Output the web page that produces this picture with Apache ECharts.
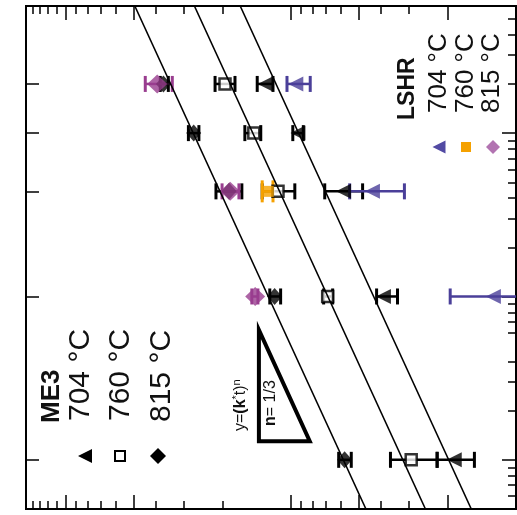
<!DOCTYPE html>
<html><head><meta charset="utf-8">
<script src="https://cdn.jsdelivr.net/npm/echarts@6/dist/echarts.min.js"></script>
<style>html,body{margin:0;padding:0;background:#fff}#c{width:517px;height:515px}</style>
</head><body><div id="c"></div>
<script>
// ---- Data (size vs. time, log-log; chart is drawn rotated as in the reference) ----
const me3Times = [1, 10, 44, 100, 200];
const me3_704 = [0.188, 0.388, 0.583, 0.93, 1.30];
const me3_704_lo = [0.153, 0.336, 0.48, 0.88, 1.20];
const me3_704_hi = [0.224, 0.416, 0.707, 0.98, 1.41];
const me3_760 = [0.292, 0.686, 1.14, 1.46, 1.96];
const me3_760_lo = [0.224, 0.652, 0.96, 1.36, 1.77];
const me3_760_hi = [0.361, 0.715, 1.34, 1.60, 2.17];
const me3_815 = [0.577, 1.18, 1.88, 2.70, 3.68];
const me3_815_lo = [0.539, 1.11, 1.65, 2.56, 3.50];
const me3_815_hi = [0.613, 1.24, 2.15, 2.85, 3.80];

const lshr704Times = [10, 44, 200];
const lshr_704 = [0.126, 0.434, 0.95];
const lshr_704_lo = [0.05, 0.313, 0.82];
const lshr_704_hi = [0.196, 0.548, 1.04];
const lshr760Times = [44];
const lshr_760 = [1.26];
const lshr_760_lo = [1.20];
const lshr_760_hi = [1.34];
const lshr815Times = [10, 44, 200];
const lshr_815 = [1.44, 1.86, 3.92];
const lshr_815_lo = [1.40, 1.70, 3.36];
const lshr_815_hi = [1.49, 2.02, 4.43];

// fit lines y=(k*t)^n, n=1/3 : endpoints
const fitTimes = [0.5, 600];
const fit_815 = [0.464, 4.93];
const fit_760 = [0.2525, 2.68];
const fit_704 = [0.158, 1.678];

// slope triangle (n = 1/3)
const triTimes = [6.23, 1.30, 1.30];
const triSizes = [1.386, 1.386, 0.824];

// tick values
const sizeMajorTicks = [0.2, 0.5, 1, 5, 10];
const sizeMinorTicks = [0.3, 0.4, 0.6, 0.7, 0.8, 0.9, 2, 3, 4, 6, 7, 8, 9, 11, 12, 13, 14];
const timeMajorTicks = [1, 10, 100];
const timeMinorTicks = [0.6, 0.7, 0.8, 0.9, 2, 3, 4, 6, 7, 8, 9, 20, 30, 40, 50, 60, 70, 80, 90, 200, 300, 400, 500];
const testTimeTicks = [1, 10, 44, 100, 200];

const legendTemps = ['704 °C', '760 °C', '815 °C'];

// ---- Chart ----
const FONT = "'Liberation Sans', Arial, sans-serif";
const chart = echarts.init(document.getElementById('c'), null, {renderer: 'canvas'});

function xAx(position, ticks, len) {
  return {type: 'log', inverse: true, min: 0.1, max: 15, position: position,
    axisLine: {show: false}, splitLine: {show: false}, axisLabel: {show: false},
    axisTick: {show: true, inside: true, length: len, customValues: ticks, lineStyle: {color: '#000', width: 1.5}}};
}
function yAx(position, ticks, len) {
  return {type: 'log', min: 0.5, max: 600, position: position,
    axisLine: {show: false}, splitLine: {show: false}, axisLabel: {show: false},
    axisTick: {show: true, inside: true, length: len, customValues: ticks, lineStyle: {color: '#000', width: 1.5}}};
}
const pts = (sizes, times) => sizes.map((s, i) => [s, times[i]]);
const bars = (lo, hi, times) => lo.map((l, i) => [l, hi[i], times[i]]);

function errSeries(lo, hi, times, color, cap) {
  return {
    type: 'custom', xAxisIndex: 0, yAxisIndex: 0, clip: true, silent: true,
    encode: {x: [0, 1], y: 2},
    data: bars(lo, hi, times),
    renderItem: function (params, api) {
      const a = api.coord([api.value(0), api.value(2)]);
      const b = api.coord([api.value(1), api.value(2)]);
      const st = {stroke: color, lineWidth: 2.5, fill: null};
      const cs = {stroke: color, lineWidth: 3};
      return {type: 'group', children: [
        {type: 'line', shape: {x1: a[0], y1: a[1], x2: b[0], y2: b[1]}, style: st},
        {type: 'line', shape: {x1: a[0], y1: a[1] - cap, x2: a[0], y2: a[1] + cap}, style: cs},
        {type: 'line', shape: {x1: b[0], y1: b[1] - cap, x2: b[0], y2: b[1] + cap}, style: cs}
      ]};
    }
  };
}
function scat(name, sizes, times, symbol, size, itemStyle, rot) {
  return {name: name, type: 'scatter', xAxisIndex: 0, yAxisIndex: 0, silent: true,
    symbol: symbol, symbolSize: size, symbolRotate: rot || 0, itemStyle: itemStyle,
    data: pts(sizes, times)};
}
function fitLine(sizes) {
  return {type: 'line', xAxisIndex: 0, yAxisIndex: 0, silent: true, symbol: 'none', clip: true, z: 5,
    lineStyle: {color: '#000', width: 1.6}, data: pts(sizes, fitTimes)};
}

const PURPLE = '#993d8f', BLUE = '#4a3f99', ORANGE = '#f5a100';

function rotText(x, y, text, font, rich) {
  const st = {text: text, font: font, fill: '#111', align: 'left', verticalAlign: 'middle'};
  if (rich) st.rich = rich;
  return {type: 'text', x: x, y: y, rotation: Math.PI / 2, style: st, z: 10};
}

const graphics = [
  rotText(52, 423, 'ME3', 'bold 26px ' + FONT),
  rotText(81, 421, legendTemps[0], '30px ' + FONT),
  rotText(121, 421, legendTemps[1], '30px ' + FONT),
  rotText(162, 422, legendTemps[2], '30px ' + FONT),
  rotText(408, 120, 'LSHR', 'bold 23px ' + FONT),
  rotText(439, 113, legendTemps[0], '26px ' + FONT),
  rotText(466, 113, legendTemps[1], '26px ' + FONT),
  rotText(492, 113, legendTemps[2], '26px ' + FONT),
  rotText(241, 431, '{a|y=}{b|(k}{s|*}{a|t)}{s|n}', '16px ' + FONT, {
    a: {font: '16px ' + FONT, fill: '#111'},
    b: {font: 'bold 16px ' + FONT, fill: '#111'},
    s: {font: '11px ' + FONT, fill: '#111', verticalAlign: 'top', padding: [0, 0, 8, 0]}
  }),
  rotText(271, 426, '{b|n}{a|= 1/3}', '16px ' + FONT, {
    a: {font: '16px ' + FONT, fill: '#111'},
    b: {font: 'bold 16px ' + FONT, fill: '#111'}
  }),
  // legend symbols
  {type: 'polygon', shape: {points: [[78, 456], [92, 449], [92, 463]]}, style: {fill: '#000'}},
  {type: 'rect', shape: {x: 115, y: 451, width: 10, height: 10}, style: {fill: '#fff', stroke: '#000', lineWidth: 2}},
  {type: 'polygon', shape: {points: [[150, 456], [158, 448], [166, 456], [158, 464]]}, style: {fill: '#000'}},
  {type: 'polygon', shape: {points: [[432.5, 147], [445.5, 140.5], [445.5, 153.5]]}, style: {fill: '#524aa3'}},
  {type: 'rect', shape: {x: 461, y: 142, width: 10, height: 10}, style: {fill: ORANGE}},
  {type: 'polygon', shape: {points: [[486, 147], [493, 140], [500, 147], [493, 154]]}, style: {fill: '#b273b1'}}
];

chart.setOption({
  animation: false,
  backgroundColor: '#fff',
  grid: {left: 26, right: 1, top: 6, bottom: 6, show: true, borderColor: '#000', borderWidth: 2, backgroundColor: 'transparent'},
  xAxis: [
    xAx('top', sizeMinorTicks, 8), xAx('top', sizeMajorTicks, 14),
    xAx('bottom', sizeMinorTicks, 8), xAx('bottom', sizeMajorTicks, 14)
  ],
  yAxis: [
    yAx('right', timeMinorTicks, 8), yAx('right', timeMajorTicks, 14),
    yAx('left', testTimeTicks, 13)
  ],
  graphic: graphics,
  series: [
    errSeries(me3_704_lo, me3_704_hi, me3Times, '#000', 8),
    errSeries(me3_760_lo, me3_760_hi, me3Times, '#000', 8),
    errSeries(me3_815_lo, me3_815_hi, me3Times, '#000', 8),
    scat('ME3 704 °C', me3_704, me3Times, 'triangle', 15, {color: '#000'}, 90),
    scat('ME3 760 °C', me3_760, me3Times, 'rect', 11, {color: '#fff', borderColor: '#000', borderWidth: 2.5}),
    scat('ME3 815 °C', me3_815, me3Times, 'diamond', [15, 17], {color: '#000'}),
    errSeries(lshr_704_lo, lshr_704_hi, lshr704Times, BLUE, 8),
    errSeries(lshr_760_lo, lshr_760_hi, lshr760Times, ORANGE, 11),
    errSeries(lshr_815_lo, lshr_815_hi, lshr815Times, PURPLE, 8),
    scat('LSHR 704 °C', lshr_704, lshr704Times, 'triangle', 15, {color: BLUE}, 90),
    scat('LSHR 760 °C', lshr_760, lshr760Times, 'rect', 11, {color: ORANGE}),
    scat('LSHR 815 °C', lshr_815, lshr815Times, 'diamond', [20, 19], {color: PURPLE}),
    fitLine(fit_815), fitLine(fit_760), fitLine(fit_704),
    {type: 'custom', xAxisIndex: 0, yAxisIndex: 0, silent: true, z: 6,
      data: [[triSizes[0], triTimes[0]]],
      renderItem: function (params, api) {
        const p = triSizes.map((s, i) => api.coord([s, triTimes[i]]));
        return {type: 'polygon', shape: {points: p}, style: {fill: null, stroke: '#000', lineWidth: 4, lineJoin: 'miter'}};
      }}
  ]
});
</script></body></html>
